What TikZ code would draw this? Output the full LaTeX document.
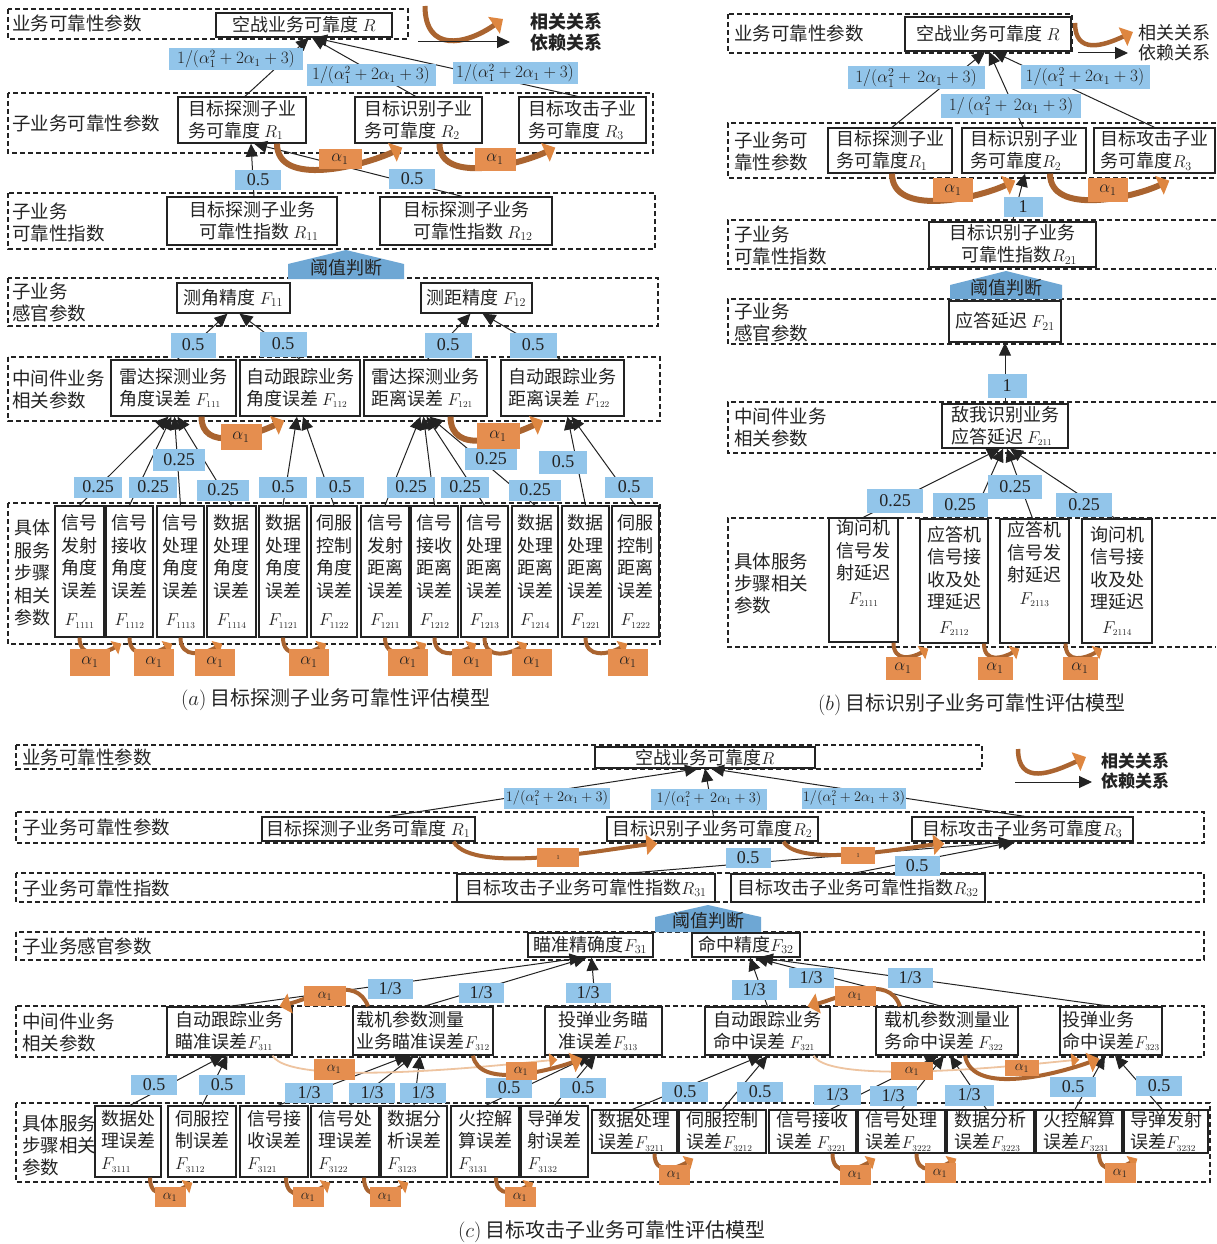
\documentclass[tikz,border=0pt]{standalone}
\usepackage{fontspec}
\setmainfont{Liberation Serif}
\newfontfamily\cjk{Noto Sans CJK SC}
\usetikzlibrary{arrows.meta}
\definecolor{lblue}{RGB}{146,197,234}
\definecolor{pblue}{RGB}{110,167,212}
\definecolor{lorange}{RGB}{229,142,79}
\definecolor{obrown}{RGB}{170,100,48}
\definecolor{otip}{RGB}{222,134,64}
\definecolor{ofade}{RGB}{238,196,160}
\definecolor{ink}{RGB}{35,35,35}
\newcommand\bx[7]{\node[#6,minimum width={#4-#2},minimum height={#5-#3}] (#1) at ({(#2+#4)/2},{(#3+#5)/2}) {#7};}
\newcommand\wl[6]{\node[#1,minimum width=#4,minimum height=#5] (#2) at (#3) {#6};}
\newcommand\Fsub[1]{$F_{\scriptscriptstyle #1}$}
\newcommand\amath{$1/(\alpha_1^2+2\alpha_1+3)$}
\tikzset{
 band/.style={draw=ink, line width=1.1pt, dash pattern=on 5pt off 3pt},
 box/.style={draw=ink, line width=1.3pt, fill=white, inner sep=1.5pt, align=center, text=ink, font=\cjk\fontsize{18}{22}\selectfont},
 boxl/.style={box, align=left},
 tall/.style={box, font=\cjk\fontsize{18}{22.5}\selectfont},
 lev/.style={anchor=west, align=left, inner sep=0pt, text=ink, font=\cjk\fontsize{18.5}{22}\selectfont},
 levb/.style={lev, font=\cjk\bfseries\fontsize{18}{21}\selectfont},
 wt/.style={fill=lblue, inner sep=0pt, text=ink, font=\fontsize{18}{18}\selectfont},
 wm/.style={wt, font=\fontsize{16}{16}\selectfont},
 wmb/.style={wt, font=\fontsize{16.5}{16.5}\selectfont},
 wc/.style={wt, font=\fontsize{13.5}{14}\selectfont},
 al/.style={fill=lorange, inner sep=0pt, text=ink, font=\fontsize{17}{17}\selectfont},
 als/.style={al, font=\fontsize{14}{14}\selectfont},
 dep/.style={draw=ink, line width=1pt, -{Triangle[length=13pt,width=12pt]}},
 rel/.style={draw=obrown, line width=#1, -{Triangle[length=11pt,width=20pt,color=otip]}},
 rel/.default=5pt,
 rels/.style={draw=obrown, line width=4pt, -{Triangle[length=8pt,width=15pt,color=otip]}},
 relf/.style={draw=ofade, line width=1.8pt, -{Triangle[length=8pt,width=14pt,color=otip]}},
 thr/.style={text=ink, font=\cjk\fontsize{18}{18}\selectfont, inner sep=0pt},
 captext/.style={text=ink, font=\cjk\fontsize{20}{24}\selectfont},
}
\begin{document}
\begin{tikzpicture}[x=1pt,y=-1pt]
\fill[white] (0,0) rectangle (1216,1244);
\useasboundingbox (0,0) rectangle (1216,1244);

%%%%%%%%%%%%%%%% PANEL A %%%%%%%%%%%%%%%%
\draw[band] (8,9) rectangle (408,39);
\draw[band] (8,93) rectangle (653,153);
\draw[band] (8,193) rectangle (655,249);
\draw[band] (8,278) rectangle (658,326);
\draw[band] (8,357) rectangle (660,421);
\draw[band] (8,503) rectangle (660,644);
\node[lev] (aL1) at (12,23) {业务可靠性参数};
\node[lev] (aL2) at (12,123) {子业务可靠性参数};
\node[lev] (aL3) at (12,222) {子业务\\可靠性指数};
\node[lev] (aL4) at (12,302) {子业务\\感官参数};
\node[lev] (aL5) at (12,389) {中间件业务\\相关参数};
\node[lev, font=\cjk\fontsize{18}{22.5}\selectfont] (aL6) at (14,573) {具体\\服务\\步骤\\相关\\参数};

\fill[pblue] (288,279) -- (288,264) -- (346,250) -- (404,264) -- (404,279) -- cycle;
\node[thr] (aTh) at (346,268) {阈值判断};

\bx{aR}{216}{13}{392}{37}{box}{空战业务可靠度 $R$}
\bx{aR1}{178}{97}{306}{143}{boxl}{目标探测子业\\务可靠度 $R_1$}
\bx{aR2}{355}{97}{482}{143}{boxl}{目标识别子业\\务可靠度 $R_2$}
\bx{aR3}{519}{97}{646}{143}{boxl}{目标攻击子业\\务可靠度 $R_3$}
\bx{aR11}{167}{197}{337}{245}{box}{目标探测子业务\\\hspace*{14pt}可靠性指数 $R_{11}$}
\bx{aR12}{380}{197}{552}{245}{box}{目标探测子业务\\\hspace*{14pt}可靠性指数 $R_{12}$}
\bx{aF11}{177}{283}{290}{313}{box}{测角精度 $F_{11}$}
\bx{aF12}{421}{283}{532}{313}{box}{测距精度 $F_{12}$}
\bx{aF111}{111}{360}{236}{416}{boxl}{雷达探测业务\\角度误差 \Fsub{111}}
\bx{aF112}{240}{360}{360}{416}{boxl}{自动跟踪业务\\角度误差 \Fsub{112}}
\bx{aF121}{364}{360}{487}{416}{boxl}{雷达探测业务\\距离误差 \Fsub{121}}
\bx{aF122}{501}{360}{624}{416}{boxl}{自动跟踪业务\\距离误差 \Fsub{122}}
\bx{a1111}{55}{506}{104}{637}{tall}{信号\\发射\\角度\\误差\\[6pt]\Fsub{1111}}
\bx{a1112}{106}{506}{153}{637}{tall}{信号\\接收\\角度\\误差\\[6pt]\Fsub{1112}}
\bx{a1113}{157}{506}{204}{637}{tall}{信号\\处理\\角度\\误差\\[6pt]\Fsub{1113}}
\bx{a1114}{207}{506}{256}{637}{tall}{数据\\处理\\角度\\误差\\[6pt]\Fsub{1114}}
\bx{a1121}{259}{506}{307}{637}{tall}{数据\\处理\\角度\\误差\\[6pt]\Fsub{1121}}
\bx{a1122}{311}{506}{357}{637}{tall}{伺服\\控制\\角度\\误差\\[6pt]\Fsub{1122}}
\bx{a1211}{361}{506}{409}{637}{tall}{信号\\发射\\距离\\误差\\[6pt]\Fsub{1211}}
\bx{a1212}{411}{506}{458}{637}{tall}{信号\\接收\\距离\\误差\\[6pt]\Fsub{1212}}
\bx{a1213}{461}{506}{508}{637}{tall}{信号\\处理\\距离\\误差\\[6pt]\Fsub{1213}}
\bx{a1214}{512}{506}{558}{637}{tall}{数据\\处理\\距离\\误差\\[6pt]\Fsub{1214}}
\bx{a1221}{562}{506}{609}{637}{tall}{数据\\处理\\距离\\误差\\[6pt]\Fsub{1221}}
\bx{a1222}{612}{506}{659}{637}{tall}{伺服\\控制\\距离\\误差\\[6pt]\Fsub{1222}}

\draw[dep] ([xshift=3]aR1.north) -- ([xshift=5]aR.south);
\draw[dep] ([xshift=-3]aR2.north) -- ([xshift=8]aR.south);
\draw[dep] ([xshift=-5]aR3.north) -- ([xshift=10]aR.south);
\draw[dep] ([xshift=2]aR11.north) -- ([xshift=9]aR1.south);
\draw[dep] ([xshift=-4]aR12.north) -- ([xshift=12]aR1.south);
\draw[dep] ([xshift=4]aF111.north) -- ([xshift=-6]aF11.south);
\draw[dep] (aF112.north) -- ([xshift=6]aF11.south);
\draw[dep] ([xshift=2]aF121.north) -- ([xshift=-6]aF12.south);
\draw[dep] ([xshift=-2]aF122.north) -- ([xshift=6]aF12.south);
\foreach \s/\d in {a1111/-5,a1112/-2,a1113/1,a1114/4}{\draw[dep] (\s.north) -- ([xshift=\d]aF111.south);}
\foreach \s/\d in {a1121/-3,a1122/3}{\draw[dep] (\s.north) -- ([xshift=\d]aF112.south);}
\foreach \s/\d in {a1211/-5,a1212/-2,a1213/1,a1214/4}{\draw[dep] (\s.north) -- ([xshift=\d]aF121.south);}
\foreach \s/\d in {a1221/5,a1222/9}{\draw[dep] (\s.north) -- ([xshift=\d]aF122.south);}

\draw[rel=6pt] ([xshift=35]aR1.south) to[out=-90,in=205,looseness=0.9] ([xshift=48,yshift=-4]aR2.south west);
\draw[rel=6pt] ([xshift=21]aR2.south) to[out=-90,in=205,looseness=0.9] ([xshift=37,yshift=-4]aR3.south west);
\draw[rel=6pt] ([xshift=28]aF111.south) to[out=-90,in=205,looseness=1.1] ([xshift=45,yshift=-4]aF112.south west);
\draw[rel=6pt] ([xshift=25]aF121.south) to[out=-90,in=205,looseness=1.1] ([xshift=43,yshift=-4]aF122.south west);
\foreach \p/\q in {a1111/a1112,a1112/a1113,a1113/a1114,a1121/a1122,a1211/a1212,a1212/a1213,a1213/a1214,a1221/a1222}{
 \draw[rels] (\p.south) to[out=-90,in=210,looseness=1.3] ([xshift=16,yshift=-6]\q.south west);}

\wl{wm}{aw1}{236,59}{134}{22}{\amath}
\wl{wm}{aw2}{371,75}{129}{22}{\amath}
\wl{wm}{aw3}{515,73}{125}{22}{\amath}
\wl{wt}{aw4}{258,180}{46}{20}{0.5}
\wl{wt}{aw5}{412,179}{46}{20}{0.5}
\wl{wt}{aw6}{193,345}{45}{25}{0.5}
\wl{wt}{aw7}{283,344}{47}{25}{0.5}
\wl{wt}{aw8}{448,345}{47}{25}{0.5}
\wl{wt}{aw9}{533,345}{47}{25}{0.5}
\wl{wt}{aw10}{98,487}{48}{21}{0.25}
\wl{wt}{aw11}{153,487}{48}{21}{0.25}
\wl{wt}{aw12}{179,460}{52}{22}{0.25}
\wl{wt}{aw13}{223,490}{52}{21}{0.25}
\wl{wt}{aw14}{283,487}{48}{21}{0.5}
\wl{wt}{aw15}{340,487}{48}{21}{0.5}
\wl{wt}{aw16}{411,487}{48}{21}{0.25}
\wl{wt}{aw17}{465,487}{48}{21}{0.25}
\wl{wt}{aw18}{491,459}{52}{22}{0.25}
\wl{wt}{aw19}{535,490}{52}{21}{0.25}
\wl{wt}{aw20}{563,462}{48}{23}{0.5}
\wl{wt}{aw21}{629,487}{48}{21}{0.5}
\wl{al}{ao1}{340,159}{43}{20}{$\alpha_1$}
\wl{al}{ao2}{495,159}{41}{23}{$\alpha_1$}
\wl{al}{ao3}{241,437}{41}{26}{$\alpha_1$}
\wl{al}{ao4}{498,436}{43}{26}{$\alpha_1$}
\foreach \n/\x in {5/90,6/154,7/215,8/309,9/408,10/472,11/532,12/628}{\wl{al}{ao\n}{\x,662}{40}{27}{$\alpha_1$}}

\coordinate (aLg1) at (425,6);
\coordinate (aLg2) at (503,19);
\draw[rel=5pt] (aLg1) to[out=-90,in=215,looseness=1.5] (aLg2);
\coordinate (aLg3) at (418,42);
\coordinate (aLg4) at (510,42);
\draw[dep] (aLg3) -- (aLg4);
\node[levb] (aLgT) at (530,32) {相关关系\\依赖关系};
\node[captext] (aCap) at (336,700) {$(a)$\ 目标探测子业务可靠性评估模型};

%%%%%%%%%%%%%%%% PANEL B %%%%%%%%%%%%%%%%
\draw[band] (728,14) rectangle (1072,53);
\draw[band] (1216,123) -| (728,178) -- (1216,178);
\draw[band] (1216,220) -| (728,269) -- (1216,269);
\draw[band] (1216,299) -| (728,344) -- (1216,344);
\draw[band] (1216,402) -| (728,453) -- (1216,453);
\draw[band] (1216,518) -| (728,647) -- (1216,647);
\node[lev] (bL1) at (734,33) {业务可靠性参数};
\node[lev] (bL2) at (734,151) {子业务可\\靠性参数};
\node[lev] (bL3) at (734,245) {子业务\\可靠性指数};
\node[lev] (bL4) at (734,322) {子业务\\感官参数};
\node[lev] (bL5) at (734,427) {中间件业务\\相关参数};
\node[lev] (bL6) at (734,583) {具体服务\\步骤相关\\参数};

\fill[pblue] (950,299) -- (950,285) -- (1006,271) -- (1062,285) -- (1062,299) -- cycle;
\node[thr] (bTh) at (1006,288) {阈值判断};

\bx{bR}{905}{17}{1071}{51}{box}{空战业务可靠度 $R$}
\bx{bR1}{828}{128}{952}{173}{boxl}{目标探测子业\\务可靠度$R_1$}
\bx{bR2}{962}{128}{1086}{173}{boxl}{目标识别子业\\务可靠度$R_2$}
\bx{bR3}{1094}{128}{1215}{173}{boxl}{目标攻击子业\\务可靠度$R_3$}
\bx{bR21}{929}{222}{1096}{267}{box}{目标识别子业务\\\hspace*{14pt}可靠性指数$R_{21}$}
\bx{bF21}{949}{301}{1061}{342}{box}{应答延迟 $F_{21}$}
\bx{bF211}{942}{404}{1068}{448}{boxl}{敌我识别业务\\应答延迟 \Fsub{211}}
\bx{bF2111}{829}{519}{898}{641}{tall}{询问机\\信号发\\射延迟\\[2pt]\Fsub{2111}\\[14pt]}
\bx{bF2112}{920}{519}{988}{643}{tall}{应答机\\信号接\\收及处\\理延迟\\[2pt]\Fsub{2112}}
\bx{bF2113}{1000}{519}{1069}{643}{tall}{应答机\\信号发\\射延迟\\[0pt]\Fsub{2113}\\[14pt]}
\bx{bF2114}{1082}{519}{1152}{643}{tall}{询问机\\信号接\\收及处\\理延迟\\[2pt]\Fsub{2114}}

\draw[dep] ([xshift=2]bR1.north) -- ([xshift=-3]bR.south);
\draw[dep] ([xshift=-1]bR2.north) -- ([xshift=1]bR.south);
\draw[dep] (bR3.north) -- ([xshift=5]bR.south);
\draw[dep] (bR21.north) -- ([xshift=1]bR2.south);
\draw[dep] (bF211.north) -- (bF21.south);
\draw[dep] (bF2111.north) -- ([xshift=-5]bF211.south);
\draw[dep] ([xshift=18]bF2112.north) -- ([xshift=-2]bF211.south);
\draw[dep] ([xshift=-2]bF2113.north) -- ([xshift=2]bF211.south);
\draw[dep] ([xshift=-2]bF2114.north) -- ([xshift=5]bF211.south);

\draw[rel=6pt] ([xshift=2]bR1.south) to[out=-90,in=205,looseness=0.9] ([xshift=54,yshift=-7]bR2.south west);
\draw[rel=6pt] ([xshift=26]bR2.south) to[out=-90,in=205,looseness=0.9] ([xshift=76,yshift=-7]bR3.south west);
\draw[rels] ([xshift=30]bF2111.south) to[out=-90,in=210,looseness=1.4] ([xshift=9,yshift=-5]bF2112.south west);
\draw[rels] ([xshift=30]bF2112.south) to[out=-90,in=210,looseness=1.4] ([xshift=20,yshift=-5]bF2113.south west);
\draw[rels] ([xshift=31]bF2113.south) to[out=-90,in=210,looseness=1.4] ([xshift=21,yshift=-5]bF2114.south west);

\wl{wmb}{bw1}{916,78}{137}{23}{$1/(\alpha_1^2+\,2\alpha_1+3)$}
\wl{wmb}{bw2}{1011,106}{140}{24}{$1/\,(\alpha_1^2+\,2\alpha_1+3)$}
\wl{wmb}{bw3}{1085,77}{129}{24}{\amath}
\wl{wt}{bw4}{1023,207}{39}{20}{1}
\wl{wt}{bw5}{1007,386}{39}{24}{1}
\wl{wt}{bw6}{895,501}{56}{24}{0.25}
\wl{wt}{bw7}{960,505}{55}{24}{0.25}
\wl{wt}{bw8}{1015,487}{54}{24}{0.25}
\wl{wt}{bw9}{1084,505}{56}{24}{0.25}
\wl{al}{bo1}{953,190}{40}{24}{$\alpha_1$}
\wl{al}{bo2}{1108,190}{40}{24}{$\alpha_1$}
\wl{al}{bo3}{903,668}{35}{23}{$\alpha_1$}
\wl{al}{bo4}{995,668}{35}{23}{$\alpha_1$}
\wl{al}{bo5}{1080,668}{35}{23}{$\alpha_1$}

\coordinate (bLg1) at (1075,23);
\coordinate (bLg2) at (1133,32);
\draw[rel=4.5pt] (bLg1) to[out=-90,in=205,looseness=1.4] (bLg2);
\coordinate (bLg3) at (1078,53);
\coordinate (bLg4) at (1128,53);
\draw[dep] (bLg3) -- (bLg4);
\node[lev, font=\cjk\fontsize{18}{20}\selectfont] (bLgT) at (1138,43) {相关关系\\依赖关系};
\node[captext] (bCap) at (972,705) {$(b)$\ 目标识别子业务可靠性评估模型};

%%%%%%%%%%%%%%%% PANEL C %%%%%%%%%%%%%%%%
\draw[band] (16,745) rectangle (982,769);
\draw[band] (16,812) rectangle (1204,843);
\draw[band] (16,873) rectangle (1204,902);
\draw[band] (16,932) rectangle (1204,960);
\draw[band] (16,1006) rectangle (1204,1057);
\draw[band] (16,1103) rectangle (1210,1182);
\node[lev] (cL1) at (22,757) {业务可靠性参数};
\node[lev] (cL2) at (22,827) {子业务可靠性参数};
\node[lev] (cL3) at (22,888) {子业务可靠性指数};
\node[lev] (cL4) at (22,946) {子业务感官参数};
\node[lev] (cL5) at (22,1032) {中间件业务\\相关参数};
\node[lev] (cL6) at (22,1145) {具体服务\\步骤相关\\参数};

\fill[pblue] (655,932) -- (655,917) -- (708,905) -- (761,917) -- (761,932) -- cycle;
\node[thr] (cTh) at (708,921) {阈值判断};

\bx{cR}{595}{747}{815}{768}{box}{空战业务可靠度$R$}
\bx{cR1}{262}{817}{475}{841}{box}{目标探测子业务可靠度 $R_1$}
\bx{cR2}{607}{817}{818}{841}{box}{目标识别子业务可靠度$R_2$}
\bx{cR3}{912}{817}{1133}{841}{box}{目标攻击子业务可靠度$R_3$}
\bx{cR31}{457}{874}{715}{902}{box}{目标攻击子业务可靠性指数$R_{31}$}
\bx{cR32}{731}{874}{985}{902}{box}{目标攻击子业务可靠性指数$R_{32}$}
\bx{cF31}{528}{933}{653}{957}{box}{瞄准精确度$F_{31}$}
\bx{cF32}{692}{933}{800}{957}{box}{命中精度$F_{32}$}
\bx{cF311}{167}{1007}{292}{1055}{boxl}{自动跟踪业务\\瞄准误差\Fsub{311}}
\bx{cF312}{353}{1007}{493}{1055}{boxl}{载机参数测量\\业务瞄准误差\Fsub{312}}
\bx{cF313}{545}{1007}{662}{1055}{boxl}{投弹业务瞄\\准误差\Fsub{313}}
\bx{cF321}{705}{1007}{830}{1055}{boxl}{自动跟踪业务\\命中误差 \Fsub{321}}
\bx{cF322}{876}{1007}{1018}{1055}{boxl}{载机参数测量业\\务命中误差 \Fsub{322}}
\bx{cF323}{1060}{1007}{1162}{1055}{boxl}{投弹业务\\命中误差\Fsub{323}}
\bx{cF3111}{95}{1106}{161}{1177}{boxl}{数据处\\理误差\\\Fsub{3111}}
\bx{cF3112}{168}{1106}{236}{1177}{boxl}{伺服控\\制误差\\\Fsub{3112}}
\bx{cF3121}{240}{1106}{308}{1177}{boxl}{信号接\\收误差\\\Fsub{3121}}
\bx{cF3122}{311}{1106}{379}{1177}{boxl}{信号处\\理误差\\\Fsub{3122}}
\bx{cF3123}{381}{1106}{447}{1177}{boxl}{数据分\\析误差\\\Fsub{3123}}
\bx{cF3131}{451}{1106}{519}{1177}{boxl}{火控解\\算误差\\\Fsub{3131}}
\bx{cF3132}{521}{1106}{588}{1177}{boxl}{导弹发\\射误差\\\Fsub{3132}}
\bx{cF3211}{592}{1110}{677}{1153}{boxl}{数据处理\\误差\Fsub{3211}}
\bx{cF3212}{679}{1110}{766}{1153}{boxl}{伺服控制\\误差\Fsub{3212}}
\bx{cF3221}{769}{1110}{856}{1153}{boxl}{信号接收\\误差 \Fsub{3221}}
\bx{cF3222}{858}{1110}{945}{1153}{boxl}{信号处理\\误差\Fsub{3222}}
\bx{cF3223}{947}{1110}{1034}{1153}{boxl}{数据分析\\误差\Fsub{3223}}
\bx{cF3231}{1036}{1110}{1122}{1153}{boxl}{火控解算\\误差\Fsub{3231}}
\bx{cF3232}{1124}{1110}{1208}{1153}{boxl}{导弹发射\\误差\Fsub{3232}}

\draw[dep] ([xshift=20]cR1.north) -- ([xshift=-7]cR.south);
\draw[dep] ([xshift=1]cR2.north) -- (cR.south);
\draw[dep] ([xshift=2]cR3.north) -- ([xshift=6]cR.south);
\draw[dep] ([xshift=40]cR31.north) -- ([xshift=-11]cR3.south);
\draw[dep] ([xshift=-5]cR32.north) -- ([xshift=-7]cR3.south);
\draw[dep] (cF311.north) -- ([xshift=-8]cF31.south);
\draw[dep] ([xshift=1]cF312.north) -- ([xshift=-4]cF31.south);
\draw[dep] ([xshift=-8]cF313.north) -- ([xshift=1]cF31.south);
\draw[dep] (cF321.north) -- ([xshift=4]cF32.south);
\draw[dep] ([xshift=-5]cF322.north) -- ([xshift=9]cF32.south);
\draw[dep] (cF323.north) -- ([xshift=14]cF32.south);
\draw[dep] ([xshift=2]cF3111.north) -- ([xshift=-6]cF311.south);
\draw[dep] (cF3112.north) -- ([xshift=-2]cF311.south);
\draw[dep] ([xshift=4]cF3121.north) -- ([xshift=-15]cF312.south);
\draw[dep] ([xshift=5]cF3122.north) -- ([xshift=-9]cF312.south);
\draw[dep] (cF3123.north) -- ([xshift=-3]cF312.south);
\draw[dep] ([xshift=1]cF3131.north) -- ([xshift=-13]cF313.south);
\draw[dep] (cF3132.north) -- ([xshift=-8]cF313.south);
\draw[dep] ([xshift=-2]cF3211.north) -- ([xshift=-6]cF321.south);
\draw[dep] (cF3212.north) -- (cF321.south);
\draw[dep] ([xshift=18]cF3221.north) -- ([xshift=-9]cF322.south);
\draw[dep] (cF3222.north) -- ([xshift=-3]cF322.south);
\draw[dep] ([xshift=-4]cF3223.north) -- ([xshift=3]cF322.south);
\draw[dep] ([xshift=-4]cF3231.north) -- ([xshift=-6]cF323.south);
\draw[dep] ([xshift=-4]cF3232.north) -- ([xshift=4]cF323.south);

\draw[rel=4pt] ([xshift=85]cR1.south) to[out=-60,in=185,looseness=0.5] ([xshift=51,yshift=-2]cR2.south west);
\draw[rel=4pt] ([xshift=71]cR2.south) to[out=-60,in=185,looseness=0.5] ([xshift=33,yshift=-2]cR3.south west);
\draw[rel=4pt] ([xshift=-55]cF312.north) to[out=110,in=15,looseness=1] ([xshift=50]cF311.north);
\draw[relf] ([xshift=43]cF311.south) to[out=-60,in=185,looseness=0.35] ([xshift=13,yshift=-4]cF313.south west);
\draw[rel=4pt] ([xshift=50]cF312.south) to[out=-80,in=200,looseness=0.8] ([xshift=38,yshift=-3]cF313.south west);
\draw[rel=4pt] ([xshift=-47]cF322.north) to[out=110,in=15,looseness=1] ([xshift=40]cF321.north);
\draw[relf] ([xshift=46]cF321.south) to[out=-60,in=185,looseness=0.35] ([xshift=20,yshift=-4]cF323.south west);
\draw[rel=4pt] ([xshift=18]cF322.south) to[out=-80,in=200,looseness=0.8] ([xshift=40,yshift=-3]cF323.south west);
\foreach \p/\a/\q/\b in {cF3111/22/cF3112/25,cF3121/12/cF3122/20,cF3122/19/cF3123/28,cF3131/11/cF3132/13,cF3211/20/cF3212/15,cF3221/20/cF3222/18,cF3222/15/cF3223/10,cF3231/20/cF3232/14}{
 \draw[rels] ([xshift=\a]\p.south) to[out=-90,in=210,looseness=1.4] ([xshift=\b,yshift=-5]\q.south west);}

\wl{wc}{cw1}{557,798}{106}{21}{\amath}
\wl{wc}{cw2}{709,799}{116}{21}{$1/(\alpha_1^2+\,2\alpha_1+3)$}
\wl{wc}{cw3}{854,798}{104}{21}{\amath}
\wl{wt}{cw4}{748,858}{45}{20}{0.5}
\wl{wt}{cw5}{917,866}{45}{20}{0.5}
\wl{wt}{cw6}{390,989}{45}{20}{1/3}
\wl{wt}{cw7}{481,993}{45}{20}{1/3}
\wl{wt}{cw8}{588,993}{45}{20}{1/3}
\wl{wt}{cw9}{754,990}{45}{20}{1/3}
\wl{wt}{cw10}{811,978}{45}{20}{1/3}
\wl{wt}{cw11}{910,978}{45}{20}{1/3}
\wl{wt}{cw12}{154,1085}{46}{20}{0.5}
\wl{wt}{cw13}{222,1085}{46}{20}{0.5}
\wl{wt}{cw14}{309,1093}{48}{20}{1/3}
\wl{wt}{cw15}{372,1093}{46}{20}{1/3}
\wl{wt}{cw16}{423,1093}{46}{20}{1/3}
\wl{wt}{cw17}{509,1088}{46}{20}{0.5}
\wl{wt}{cw18}{583,1088}{46}{20}{0.5}
\wl{wt}{cw19}{685,1092}{46}{20}{0.5}
\wl{wt}{cw20}{760,1092}{46}{20}{0.5}
\wl{wt}{cw21}{837,1095}{47}{20}{1/3}
\wl{wt}{cw22}{893,1096}{47}{20}{1/3}
\wl{wt}{cw23}{969,1095}{49}{21}{1/3}
\wl{wt}{cw24}{1073,1087}{46}{20}{0.5}
\wl{wt}{cw25}{1159,1086}{46}{20}{0.5}
\wl{als}{co1}{558,857}{42}{19}{\raisebox{-5pt}{\fontsize{6}{6}\selectfont 1}}
\wl{als}{co2}{858,855}{34}{17}{\raisebox{-5pt}{\fontsize{6}{6}\selectfont 1}}
\wl{als}{co3}{325,996}{42}{20}{$\alpha_1$}
\wl{als}{co4}{334,1069}{41}{21}{$\alpha_1$}
\wl{als}{co5}{521,1071}{31}{18}{$\alpha_1$}
\wl{als}{co6}{855,996}{41}{20}{$\alpha_1$}
\wl{als}{co7}{912,1071}{42}{18}{$\alpha_1$}
\wl{als}{co8}{1022,1068}{34}{16}{$\alpha_1$}
\foreach \n/\x/\y in {9/170/1197,10/308/1197,11/385/1197,12/520/1197,13/674/1175,14/855/1175,15/940/1173,16/1120/1173}{\wl{als}{co\n}{\x,\y}{31}{20}{$\alpha_1$}}

\coordinate (cLg1) at (1018,749);
\coordinate (cLg2) at (1086,757);
\draw[rel=4.5pt] (cLg1) to[out=-90,in=205,looseness=1.4] (cLg2);
\coordinate (cLg3) at (1015,782);
\coordinate (cLg4) at (1092,782);
\draw[dep] (cLg3) -- (cLg4);
\node[levb, font=\cjk\bfseries\fontsize{17}{20}\selectfont] (cLgT) at (1101,771) {相关关系\\依赖关系};
\node[captext] (cCap) at (612,1232) {$(c)$\ 目标攻击子业务可靠性评估模型};
\end{tikzpicture}
\end{document}
